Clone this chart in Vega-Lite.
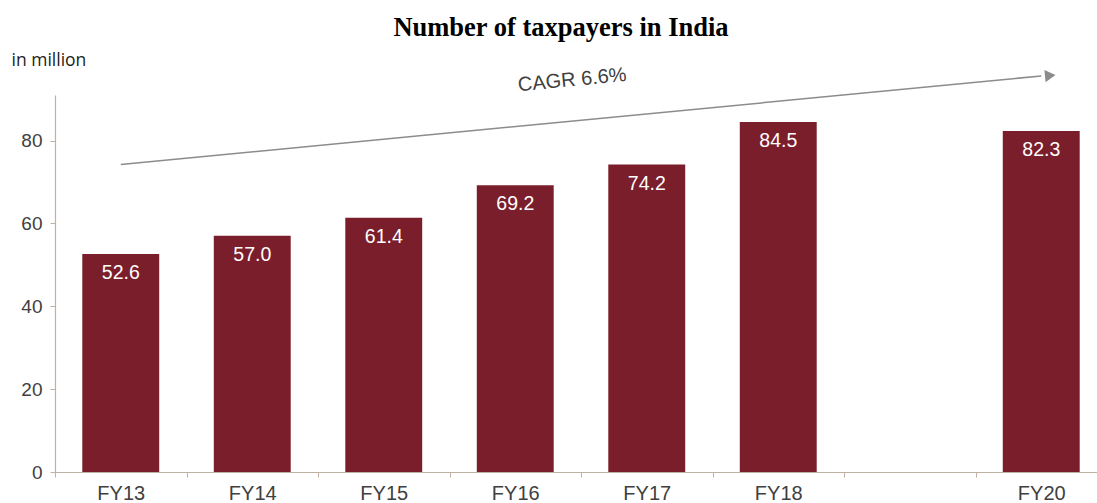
{
  "$schema": "https://vega.github.io/schema/vega-lite/v6.json",
  "width": 1052,
  "height": 377,
  "autosize": {"type": "none"},
  "padding": {"left": 55, "top": 95, "right": 0, "bottom": 31},
  "background": "white",
  "title": {
    "text": "Number of taxpayers in India",
    "font": "Liberation Serif",
    "fontSize": 26.5,
    "fontWeight": "bold",
    "color": "#000000",
    "anchor": "middle",
    "dx": -20,
    "offset": 10
  },
  "config": {"view": {"stroke": null}},
  "datasets": {
    "bars": [
      {"year": "FY13", "value": 52.6},
      {"year": "FY14", "value": 57.0},
      {"year": "FY15", "value": 61.4},
      {"year": "FY16", "value": 69.2},
      {"year": "FY17", "value": 74.2},
      {"year": "FY18", "value": 84.5},
      {"year": "FY19", "value": null},
      {"year": "FY20", "value": 82.3}
    ],
    "trend": [
      {"start": "FY13", "end": "FY20", "y0": 74.2, "y1": 95.6}
    ],
    "cagr": [
      {"year": "FY16", "y": 94.6, "label": "CAGR 6.6%"}
    ],
    "head": [
      {"year": "FY20", "y": 95.7}
    ]
  },
  "layer": [
    {
      "data": {"name": "bars"},
      "mark": {"type": "bar", "color": "#7B1E2B", "width": {"band": 0.585}},
      "encoding": {
        "x": {
          "field": "year",
          "type": "nominal",
          "scale": {"domain": ["FY13","FY14","FY15","FY16","FY17","FY18","FY19","FY20"], "paddingInner": 0, "paddingOuter": 0},
          "axis": {
            "title": null,
            "labelAngle": 0,
            "labelFont": "Liberation Sans",
            "labelFontSize": 20,
            "labelColor": "#404040",
            "labelPadding": 6,
            "labelExpr": "datum.value == 'FY19' ? '' : datum.value",
            "domainColor": "#BFB2A2",
            "domainWidth": 1.2,
            "tickColor": "#BFB2A2",
            "tickSize": 5,
            "tickBand": "extent"
          }
        },
        "y": {
          "field": "value",
          "type": "quantitative",
          "scale": {"domain": [0, 91], "nice": false},
          "axis": {
            "values": [0, 20, 40, 60, 80],
            "grid": false,
            "title": "in million",
            "titleAngle": 0,
            "titleAlign": "left",
            "titleBaseline": "middle",
            "titleX": -44,
            "titleY": -35,
            "titleFont": "Open Sans",
            "titleFontSize": 17.5,
            "titleFontWeight": "normal",
            "titleColor": "#222222",
            "labelFont": "Liberation Sans",
            "labelFontSize": 19,
            "labelColor": "#404040",
            "labelPadding": 8,
            "domainColor": "#BFB2A2",
            "domainWidth": 1.2,
            "tickColor": "#BFB2A2",
            "tickSize": 5
          }
        }
      }
    },
    {
      "data": {"name": "bars"},
      "mark": {"type": "text", "color": "white", "font": "Liberation Sans", "fontSize": 19.5, "baseline": "middle", "dy": 19},
      "encoding": {
        "x": {"field": "year", "type": "nominal"},
        "y": {"field": "value", "type": "quantitative"},
        "text": {"field": "value", "type": "quantitative", "format": ".1f"}
      }
    },
    {
      "data": {"name": "trend"},
      "mark": {"type": "rule", "color": "#8C8C8C", "strokeWidth": 1.5, "clip": false},
      "encoding": {
        "x": {"field": "start", "type": "nominal"},
        "x2": {"field": "end"},
        "y": {"field": "y0", "type": "quantitative"},
        "y2": {"field": "y1"}
      }
    },
    {
      "data": {"name": "head"},
      "mark": {"type": "point", "shape": "triangle-right", "filled": true, "color": "#8C8C8C", "size": 150, "angle": -5.5, "opacity": 1, "xOffset": 9, "clip": false},
      "encoding": {
        "x": {"field": "year", "type": "nominal"},
        "y": {"field": "y", "type": "quantitative"}
      }
    },
    {
      "data": {"name": "cagr"},
      "mark": {"type": "text", "color": "#404040", "font": "Liberation Sans", "fontSize": 20, "angle": -5.5, "xOffset": 57, "align": "center", "baseline": "middle", "clip": false},
      "encoding": {
        "x": {"field": "year", "type": "nominal"},
        "y": {"field": "y", "type": "quantitative"},
        "text": {"field": "label"}
      }
    }
  ]
}
